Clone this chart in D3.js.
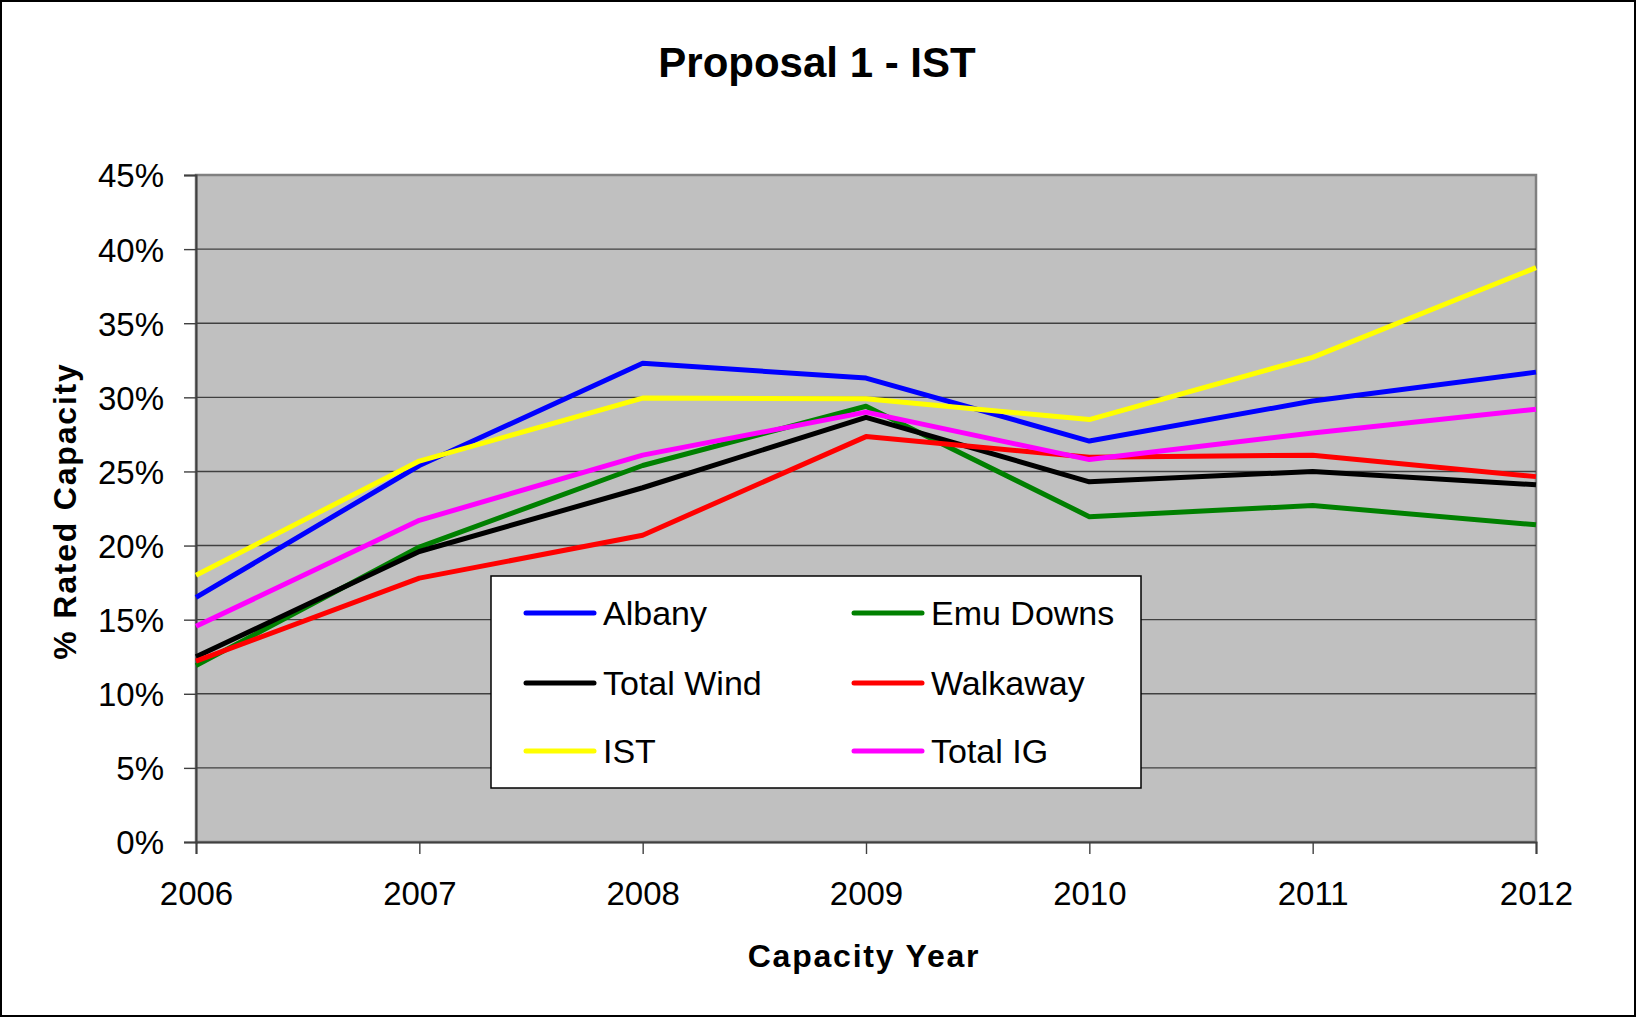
<!DOCTYPE html>
<html>
<head>
<meta charset="utf-8">
<script src="https://cdn.jsdelivr.net/npm/d3@7"></script>
<style>
  html, body { margin: 0; padding: 0; background: #fff; }
  svg { display: block; }
  text { font-family: "Liberation Sans", Arial, sans-serif; }
</style>
</head>
<body>
<svg id="chart" width="1636" height="1018"></svg>
<script>
const years = [2006, 2007, 2008, 2009, 2010, 2011, 2012];
const albany    = [16.5, 25.4, 32.3, 31.3, 27.05, 29.75, 31.7];
const emuDowns  = [11.9, 19.9, 25.4, 29.4, 21.95, 22.7, 21.4];
const totalWind = [12.5, 19.6, 23.9, 28.65, 24.3, 25.0, 24.1];
const walkaway  = [12.2, 17.8, 20.7, 27.35, 25.95, 26.1, 24.65];
const ist       = [18.0, 25.7, 29.95, 29.9, 28.5, 32.7, 38.75];
const totalIG   = [14.55, 21.7, 26.1, 29.0, 25.8, 27.6, 29.2];
const yTicks = [0, 5, 10, 15, 20, 25, 30, 35, 40, 45];

const seriesNames = ["Albany", "Emu Downs", "Total Wind", "Walkaway", "IST", "Total IG"];
const seriesValues = [albany, emuDowns, totalWind, walkaway, ist, totalIG];
const seriesColors = ["#0000ff", "#008000", "#000000", "#ff0000", "#ffff00", "#ff00ff"];

const svg = d3.select("#chart");
const W = 1636, H = 1018;
const plot = { left: 196, right: 1536, top: 175, bottom: 842 };

// outer border
svg.append("rect").attr("x", 1).attr("y", 1).attr("width", W - 2).attr("height", H - 3)
  .attr("fill", "#fff").attr("stroke", "#000").attr("stroke-width", 2);

const x = d3.scalePoint().domain(years).range([plot.left, plot.right]);
const y = d3.scaleLinear().domain([0, 45]).range([plot.bottom, plot.top]);

// plot background
svg.append("rect").attr("x", plot.left).attr("y", plot.top)
  .attr("width", plot.right - plot.left).attr("height", plot.bottom - plot.top)
  .attr("fill", "#c0c0c0").attr("stroke", "#808080").attr("stroke-width", 2.5);

// gridlines
svg.append("g").selectAll("line").data(yTicks.filter(t => t > 0 && t < 45)).join("line")
  .attr("x1", plot.left).attr("x2", plot.right)
  .attr("y1", d => y(d)).attr("y2", d => y(d))
  .attr("stroke", "#404040").attr("stroke-width", 1.4);

// y axis
const yAxis = d3.axisLeft(y).tickValues(yTicks).tickFormat(d => d + "%").tickSize(12).tickPadding(20);
const gy = svg.append("g").attr("transform", `translate(${plot.left},0)`).call(yAxis);
gy.select(".domain").attr("stroke", "#404040").attr("stroke-width", 2);
gy.selectAll(".tick line").attr("stroke", "#404040").attr("stroke-width", 1.4);
gy.selectAll(".tick text").attr("font-size", 33).attr("fill", "#000")
  .attr("font-family", "Liberation Sans, Arial, sans-serif").attr("dy", "0.36em");

// x axis
const xAxis = d3.axisBottom(x).tickSize(12).tickPadding(28);
const gx = svg.append("g").attr("transform", `translate(0,${plot.bottom})`).call(xAxis);
gx.select(".domain").attr("stroke", "#404040").attr("stroke-width", 2);
gx.selectAll(".tick line").attr("stroke", "#404040").attr("stroke-width", 1.4);
gx.selectAll(".tick text").attr("font-size", 33).attr("fill", "#000")
  .attr("font-family", "Liberation Sans, Arial, sans-serif").attr("dy", "0.71em");

// lines
const line = d3.line().x((d, i) => x(years[i])).y(d => y(d));
svg.append("g").selectAll("path").data(seriesValues).join("path")
  .attr("d", d => line(d))
  .attr("fill", "none")
  .attr("stroke", (d, i) => seriesColors[i])
  .attr("stroke-width", 5)
  .attr("stroke-linejoin", "round");

// title
svg.append("text").attr("x", 817).attr("y", 77).attr("text-anchor", "middle")
  .attr("font-size", 42).attr("font-weight", "bold").text("Proposal 1 - IST");

// axis titles
svg.append("text").attr("x", 864).attr("y", 967).attr("text-anchor", "middle")
  .attr("font-size", 32).attr("font-weight", "bold").attr("letter-spacing", "1.8px")
  .text("Capacity Year");
svg.append("text").attr("transform", "translate(76,511) rotate(-90)").attr("text-anchor", "middle")
  .attr("font-size", 32).attr("font-weight", "bold").attr("letter-spacing", "1.8px")
  .text("% Rated Capacity");

// legend
const lg = svg.append("g");
lg.append("rect").attr("x", 491).attr("y", 576).attr("width", 650).attr("height", 212)
  .attr("fill", "#fff").attr("stroke", "#000").attr("stroke-width", 1.5);
const colX = [526, 854];
const rowY = [613, 683, 751];
seriesNames.forEach((name, i) => {
  const c = i % 2, r = Math.floor(i / 2);
  lg.append("line").attr("x1", colX[c]).attr("x2", colX[c] + 68)
    .attr("y1", rowY[r]).attr("y2", rowY[r])
    .attr("stroke", seriesColors[i]).attr("stroke-width", 5).attr("stroke-linecap", "round");
  lg.append("text").attr("x", colX[c] + 77).attr("y", rowY[r]).attr("dy", "0.36em")
    .attr("font-size", 34).attr("fill", "#000").text(name);
});
</script>
</body>
</html>
